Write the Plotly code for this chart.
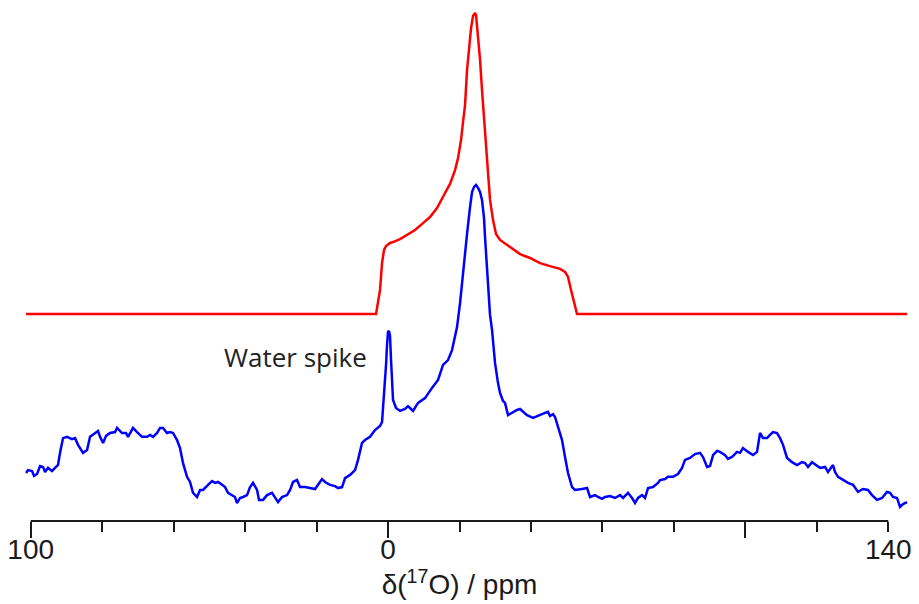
import plotly.graph_objects as go

# 17O NMR spectra: simulated lineshape (red) above the experimental spectrum (blue)

# --- simulated spectrum (chemical shift in ppm, normalised intensity 0..100) ---
sim_ppm = [101.30, 3.36, 2.24, 1.68, 1.12, 0.56, -0.56, -1.40, -3.36, -5.32,
           -7.56, -9.79, -11.75, -13.71, -14.83, -15.95, -17.35, -18.75, -19.59, -20.43,
           -20.99, -21.55, -22.11, -22.67, -23.23, -23.79, -24.35, -24.63, -25.19, -25.75,
           -26.30, -26.86, -27.42, -27.98, -28.54, -29.38, -30.22, -31.34, -33.30, -34.98,
           -36.94, -39.74, -42.54, -45.33, -48.13, -49.53, -50.37, -51.21, -52.05, -52.89,
           -145.24]
sim_int = [0.0, 0.0, 8.0, 16.9, 21.3, 22.6, 23.6, 23.9, 24.9, 26.2,
           27.9, 30.2, 32.2, 35.2, 37.5, 40.2, 43.2, 47.8, 51.8, 57.8,
           63.8, 69.4, 81.1, 89.4, 95.0, 99.0, 100.0, 99.3, 92.7, 84.4,
           74.4, 64.5, 54.5, 46.2, 37.9, 31.2, 26.6, 24.6, 22.9, 21.3,
           19.9, 18.6, 16.9, 15.9, 15.0, 14.0, 12.3, 8.0, 3.7, 0.0,
           0.0]

# --- experimental spectrum (chemical shift in ppm, normalised intensity 0..100) ---
exp_ppm = [101.30, 100.74, 99.62, 99.06, 98.22, 97.38, 96.54, 95.98, 95.15, 94.03,
           93.19, 92.35, 91.79, 90.95, 89.83, 88.43, 87.59, 86.75, 85.35, 84.23,
           83.39, 82.55, 81.15, 80.59, 79.75, 78.91, 77.80, 76.40, 75.84, 74.44,
           73.32, 72.76, 71.36, 70.24, 68.84, 67.44, 66.60, 65.76, 64.64, 63.80,
           62.96, 61.85, 61.01, 60.17, 59.05, 58.21, 57.37, 56.25, 55.41, 54.57,
           53.45, 52.61, 51.77, 50.37, 49.25, 48.41, 47.57, 46.45, 45.61, 44.77,
           43.66, 42.82, 42.26, 41.42, 40.58, 39.46, 38.62, 37.78, 36.66, 36.10,
           34.98, 33.86, 32.46, 31.62, 30.78, 29.66, 28.26, 27.42, 26.58, 25.47,
           24.63, 23.23, 21.83, 20.43, 19.59, 18.47, 17.63, 16.23, 14.83, 13.99,
           12.87, 12.03, 10.63, 9.23, 8.40, 7.28, 6.44, 5.04, 3.64, 2.24,
           1.68, 1.12, 0.56, 0.28, 0.00, -0.28, -0.56, -0.84, -1.12, -1.40,
           -2.24, -3.36, -4.76, -5.60, -6.44, -7.00, -8.40, -10.35, -12.31, -13.99,
           -15.39, -16.79, -17.91, -18.75, -19.31, -20.15, -20.99, -21.55, -22.11, -22.95,
           -23.51, -24.07, -24.63, -25.19, -25.75, -26.30, -26.86, -27.14, -27.70, -27.98,
           -28.54, -29.10, -29.94, -30.78, -31.34, -32.18, -32.74, -33.58, -34.98, -36.10,
           -36.94, -37.78, -38.90, -40.58, -41.70, -43.10, -43.93, -44.77, -45.33, -46.17,
           -46.73, -47.57, -48.69, -49.53, -50.37, -51.49, -52.33, -54.29, -55.69, -56.53,
           -57.93, -58.77, -59.89, -60.73, -62.12, -63.52, -64.92, -65.76, -67.16, -68.28,
           -69.12, -69.96, -71.08, -71.92, -72.76, -74.16, -75.56, -76.12, -77.52, -78.36,
           -79.75, -81.15, -82.27, -83.11, -84.51, -85.91, -87.31, -88.15, -89.27, -90.11,
           -90.95, -92.07, -92.91, -94.31, -95.15, -96.26, -97.66, -98.50, -99.34, -100.74,
           -102.14, -103.26, -104.10, -104.94, -106.06, -106.90, -107.74, -108.86, -109.70, -110.54,
           -111.66, -113.05, -114.45, -115.85, -116.69, -117.53, -118.65, -119.77, -120.89, -122.29,
           -123.13, -124.53, -125.09, -125.93, -127.33, -128.73, -130.13, -131.52, -132.92, -134.32,
           -135.44, -136.84, -138.24, -139.64, -140.48, -141.32, -142.44, -143.28, -144.12, -145.24]
exp_int = [10.0, 10.9, 10.6, 9.1, 9.7, 12.2, 11.9, 10.3, 11.6, 10.6,
           11.6, 12.5, 16.3, 20.9, 21.3, 20.6, 20.9, 18.8, 16.3, 17.2,
           21.3, 21.9, 23.1, 21.3, 19.4, 21.6, 22.5, 22.8, 24.1, 22.5,
           22.5, 21.3, 24.1, 22.8, 21.3, 21.3, 21.9, 21.3, 22.5, 24.1,
           24.1, 22.5, 22.8, 22.5, 20.3, 17.8, 13.1, 8.8, 7.2, 3.8,
           2.5, 4.7, 4.7, 6.3, 7.5, 6.9, 7.2, 6.3, 5.6, 3.8,
           3.1, 2.5, 0.6, 2.2, 2.5, 3.1, 5.6, 6.9, 4.7, 1.6,
           1.6, 3.1, 3.8, 2.2, 0.9, 2.5, 3.1, 4.7, 7.2, 7.8,
           5.6, 5.6, 5.3, 5.0, 6.3, 8.1, 7.2, 6.3, 5.9, 5.3,
           5.6, 8.4, 9.4, 10.9, 14.1, 19.4, 20.3, 21.3, 23.4, 24.7,
           25.9, 33.8, 43.8, 50.0, 54.1, 54.4, 52.8, 45.3, 37.5, 32.8,
           30.3, 29.4, 30.0, 30.9, 30.0, 29.4, 31.9, 33.4, 36.6, 39.1,
           43.8, 45.3, 48.4, 53.1, 55.6, 63.1, 73.4, 79.7, 84.7, 93.1,
           97.8, 99.4, 100.0, 99.1, 97.8, 95.3, 89.7, 83.8, 73.4, 68.1,
           59.4, 54.7, 44.4, 38.1, 35.0, 32.5, 31.9, 28.1, 29.1, 29.7,
           30.0, 29.1, 28.1, 27.2, 27.8, 28.4, 28.8, 29.1, 27.8, 28.4,
           27.5, 24.4, 20.3, 15.0, 10.0, 5.6, 4.7, 5.0, 5.3, 2.5,
           3.1, 2.5, 1.9, 2.5, 2.8, 2.2, 3.1, 2.2, 3.8, 2.2,
           0.6, 2.2, 3.1, 2.2, 5.3, 5.6, 6.9, 7.8, 8.1, 8.8,
           8.8, 9.7, 11.6, 14.1, 14.7, 15.9, 16.3, 15.0, 11.9, 12.2,
           15.6, 16.9, 16.6, 15.6, 14.4, 15.0, 16.6, 16.3, 17.8, 16.6,
           15.6, 16.6, 22.5, 20.9, 20.9, 21.9, 22.8, 22.5, 20.9, 18.8,
           14.7, 13.4, 12.5, 13.4, 13.1, 11.9, 13.4, 12.5, 11.6, 11.9,
           10.3, 12.5, 10.3, 8.8, 7.8, 6.9, 6.3, 4.1, 5.0, 4.7,
           3.1, 1.6, 2.2, 4.1, 3.8, 2.5, 2.2, -0.6, 0.3, 0.9]

# axis ticks and labels
major_ticks = [100, 0, -100]
minor_ticks = [80, 60, 40, 20, -20, -40, -60, -80, -120, -140]
label_ticks = [100, 0, -140]
label_text = ["100", "0", "140"]

# vertical stacking of the simulated trace above the experimental one
SIM_SCALE = 0.9406
SIM_OFFSET = 59.69

X_RANGE = [108.59, -148.59]
Y_RANGE = [-5.0, 156.875]
INK = "#1a1a1a"
AXIS_FONT = dict(family="Liberation Sans, Arial, sans-serif", size=28, color=INK)

fig = go.Figure()
fig.add_trace(go.Scatter(
    x=sim_ppm, y=[v * SIM_SCALE + SIM_OFFSET for v in sim_int],
    mode="lines", line=dict(color="#ff0000", width=2.5), hoverinfo="skip",
))
fig.add_trace(go.Scatter(
    x=exp_ppm, y=exp_int,
    mode="lines", line=dict(color="#0000ff", width=2.5), hoverinfo="skip",
))
# invisible trace that carries the labelled x-axis
fig.add_trace(go.Scatter(x=[0], y=[0], xaxis="x2", mode="markers",
                         marker=dict(opacity=0), hoverinfo="skip"))

# baseline of the scale, spanning 100 .. -140 ppm
fig.add_shape(type="line", xref="x", yref="paper", x0=100, x1=-140, y0=0, y1=0,
              line=dict(color=INK, width=2))

fig.add_annotation(x=26.0, y=46.25, xref="x", yref="y", text="Water spike",
                   showarrow=False,
                   font=dict(family="Open Sans, Noto Sans, sans-serif", size=26, color="#222222"))

fig.update_layout(
    width=919, height=604,
    margin=dict(l=0, r=0, t=3, b=83),
    paper_bgcolor="white", plot_bgcolor="white",
    showlegend=False,
    xaxis=dict(
        range=X_RANGE, showgrid=False, zeroline=False, showline=False,
        tickmode="array", tickvals=major_ticks, showticklabels=False,
        ticks="outside", ticklen=16, tickwidth=2, tickcolor=INK,
        minor=dict(tickmode="array", tickvals=minor_ticks, ticks="outside",
                   ticklen=10, tickwidth=2, tickcolor=INK, showgrid=False),
    ),
    xaxis2=dict(
        range=X_RANGE, overlaying="x", anchor="y", side="bottom",
        showgrid=False, zeroline=False, showline=False,
        tickmode="array", tickvals=label_ticks, ticktext=label_text,
        ticks="outside", ticklen=16, tickwidth=2, tickcolor="rgba(0,0,0,0)",
        tickfont=AXIS_FONT, ticklabelstandoff=-13,
        title=dict(text="δ(<sup>17</sup>O) / ppm", font=AXIS_FONT, standoff=0),
    ),
    yaxis=dict(range=Y_RANGE, visible=False, showgrid=False, zeroline=False),
)

fig.write_html("out.html")
